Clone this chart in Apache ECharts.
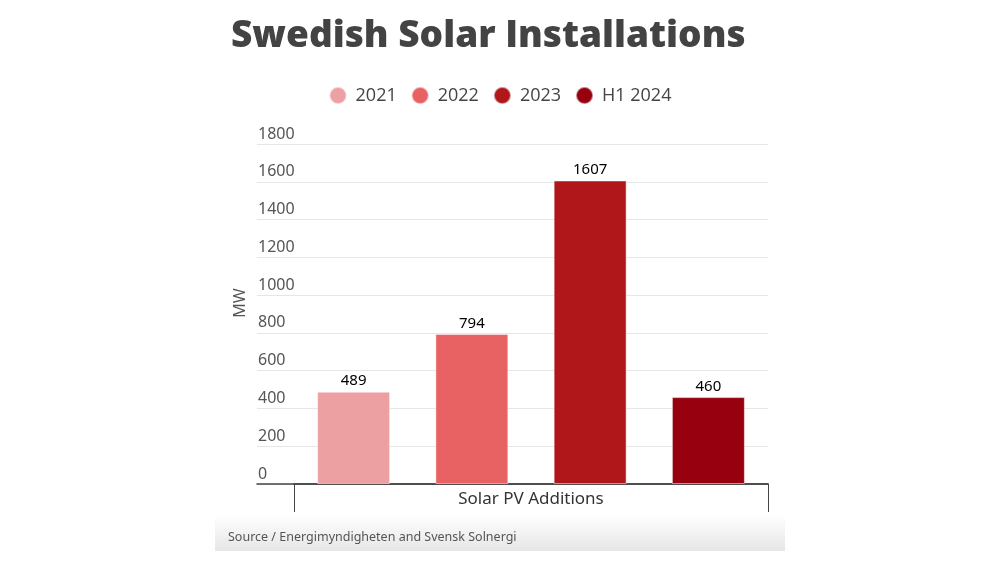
<!DOCTYPE html>
<html>
<head>
<meta charset="utf-8">
<style>
html,body{margin:0;padding:0;background:#fff;}
#c{width:1000px;height:563px;}
</style>
<script src="https://cdn.jsdelivr.net/npm/echarts@6/dist/echarts.min.js"></script>
</head>
<body>
<div id="c"></div>
<script>
const titleText = 'Swedish Solar Installations';
const category = ['Solar PV Additions'];
const seriesNames = ['2021', '2022', '2023', 'H1 2024'];
const seriesValues = [489, 794, 1607, 460];
const seriesColors = ['#eca0a2', '#e86163', '#b0171b', '#96000f'];
const yTicks = {min: 0, max: 1800, interval: 200};
const yName = 'MW';
const sourceText = 'Source / Energimyndigheten and Svensk Solnergi';

const chart = echarts.init(document.getElementById('c'));
const gridTop = 144, gridBottom = 563 - 484;
const series = seriesNames.map((n, i) => ({
  name: n,
  type: 'bar',
  xAxisIndex: 1,
  yAxisIndex: 1,
  data: [seriesValues[i]],
  barWidth: 73,
  barGap: '62%',
  itemStyle: {color: seriesColors[i], borderColor: 'rgba(255,255,255,0.5)', borderWidth: 1},
  label: {show: true, position: 'top', distance: 3, color: '#000', fontSize: 15, fontFamily: 'Noto Sans'}
}));
chart.setOption({
  animation: false,
  backgroundColor: '#fff',
  title: {
    text: titleText, left: 226, top: 13,
    textStyle: {fontFamily: 'Open Sans', fontWeight: 900, fontSize: 37, color: '#434343'}
  },
  legend: {
    data: seriesNames, top: 81, left: 'center', icon: 'circle',
    itemWidth: 17, itemHeight: 17, itemGap: 14,
    textStyle: {fontFamily: 'Open Sans', fontSize: 18, color: '#444', padding: [0, 0, 0, 4]}
  },
  grid: [
    {left: 257, right: 232, top: gridTop, bottom: gridBottom},
    {left: 294, right: 232, top: gridTop, bottom: gridBottom}
  ],
  xAxis: [
    {gridIndex: 0, type: 'category', data: [''], axisLine: {lineStyle: {color: '#444', width: 1.5}}, axisTick: {show: false}, axisLabel: {show: false}},
    {gridIndex: 1, type: 'category', data: category,
      axisLine: {lineStyle: {color: '#444', width: 1.5}},
      axisTick: {show: true, length: 28, lineStyle: {color: '#444', width: 1}},
      axisLabel: {margin: 7, fontFamily: 'Noto Sans', fontSize: 17, color: '#333'}}
  ],
  yAxis: [
    {gridIndex: 0, type: 'value', min: yTicks.min, max: yTicks.max, interval: yTicks.interval,
      axisLine: {show: false}, axisTick: {show: false},
      splitLine: {lineStyle: {color: '#e6e6e6', width: 1}},
      axisLabel: {inside: true, margin: 1, verticalAlign: 'bottom', padding: [0, 0, 2, 0], fontFamily: 'Noto Sans', fontSize: 16, color: '#555', formatter: v => String(v)}},
    {gridIndex: 1, type: 'value', min: yTicks.min, max: yTicks.max, interval: yTicks.interval, show: false}
  ],
  graphic: [
    {type: 'rect', left: 215, top: 515, shape: {width: 570, height: 36}, silent: true, z: -1,
      style: {fill: new echarts.graphic.LinearGradient(0, 0, 0, 1, [{offset: 0, color: '#ffffff'}, {offset: 1, color: '#e6e6e6'}])}},
    {type: 'text', left: 228, top: 531, style: {text: sourceText, fontFamily: 'Noto Sans', fontSize: 12.5, fill: '#555'}},
    {type: 'text', x: 240, y: 303, rotation: Math.PI / 2, style: {text: yName, fontFamily: 'Noto Sans', fontSize: 16, fill: '#555', align: 'center', verticalAlign: 'middle'}}
  ],
  series: series
});
</script>
</body>
</html>
